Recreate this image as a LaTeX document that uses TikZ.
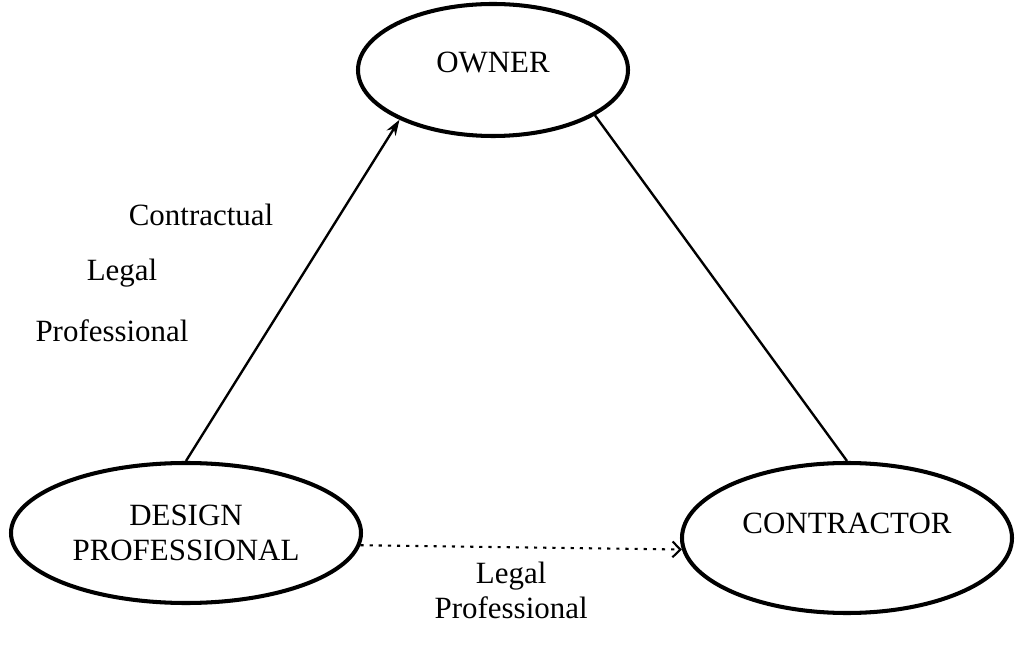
\documentclass[tikz,border=0pt]{standalone}
\usepackage{fontspec}
\setmainfont{Liberation Serif}
\usetikzlibrary{shapes.geometric,arrows.meta,positioning}

\tikzset{
  party/.style={draw, ellipse, line width=2.3pt, inner sep=0pt},
  tag/.style={font=\fontsize{17.6}{19.8}\selectfont, align=center, inner sep=0pt},
  link/.style={line width=1.35pt},
}

\begin{document}
\begin{tikzpicture}
        \useasboundingbox (0,0) rectangle (20.38,-13);

        \node at (9.86,-1.40) [party, minimum width=5.4cm, minimum height=2.64cm] (owner) {};
        \node at (3.72,-10.66) [party, minimum width=7cm, minimum height=2.80cm] (design) {};
        \node at (16.94,-10.76) [party, minimum width=6.6cm, minimum height=3cm] (contractor) {};

        \node at ([yshift=0.14cm]owner.center) [tag] (ownertxt) {OWNER};
        \node at (design.center) [tag] (designtxt) {DESIGN\\PROFESSIONAL};
        \node at ([yshift=0.30cm]contractor.center) [tag] (contractortxt) {CONTRACTOR};

        \node at (4.02,-4.30) [tag] (contractual) {Contractual};
        \node at (2.44,-5.46) [tag] (legal) {Legal};
        \node at (2.24,-6.62) [tag] (professional) {Professional};

        \draw [link, -{Stealth[length=9pt,width=6pt]}] (design.north) -- (owner.208);
        \draw [link] (owner.-24) -- (contractor.north);
        \draw [line width=1.2pt, dash pattern=on 1.8pt off 3.4pt, -{Straight Barb[length=4.5pt,width=9pt]}] (design.-4) -- (contractor.184)
              node [midway, below=0.28cm, xshift=-0.2cm, tag] (legalprof) {Legal\\Professional};

    \end{tikzpicture}
\end{document}
